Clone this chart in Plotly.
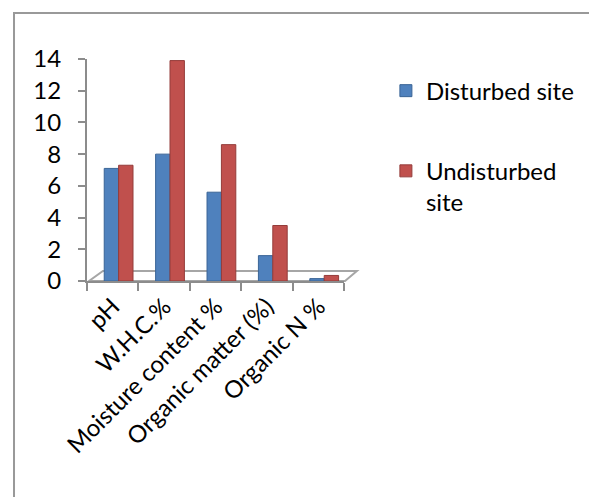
import plotly.graph_objects as go

categories = ["pH", "W.H.C.%", "Moisture content %", "Organic matter (%)", "Organic N %"]
disturbed = [7.1, 8.0, 5.6, 1.6, 0.15]
undisturbed = [7.3, 13.9, 8.6, 3.5, 0.35]
y_ticks = [0, 2, 4, 6, 8, 10, 12, 14]

FONT = "Lato"
GRAY = "#8c8c8c"

fig = go.Figure()
fig.add_trace(go.Bar(
    x=categories, y=disturbed, name="Disturbed site", legendgroup="a",
    marker=dict(color="#4F81BD", line=dict(color="#3A6496", width=1)),
    width=0.28, offset=-0.165,
))
fig.add_trace(go.Bar(
    x=categories, y=undisturbed, name="Undisturbed<br>site", legendgroup="b",
    marker=dict(color="#C0504D", line=dict(color="#943C3A", width=1)),
    width=0.28, offset=0.115,
))

fig.update_layout(
    width=597, height=497,
    margin=dict(l=79, r=261, t=51, b=224),
    paper_bgcolor="white", plot_bgcolor="rgba(0,0,0,0)",
    barmode="overlay",
    font=dict(family=FONT, size=24, color="black"),
    showlegend=True,
    legend=dict(
        x=1.163, y=0.957, xanchor="left", yanchor="top",
        traceorder="grouped", tracegroupgap=46, valign="top",
        font=dict(family=FONT, size=24, color="black"),
        bgcolor="rgba(0,0,0,0)",
    ),
    xaxis=dict(
        type="category", showline=True, linecolor=GRAY, linewidth=2,
        ticks="outside", ticklen=8, tickcolor=GRAY, tickwidth=2,
        tickson="boundaries", tickangle=-45, showgrid=False,
        tickfont=dict(family=FONT, size=24, color="black"),
    ),
    yaxis=dict(
        range=[0, 14], tickvals=y_ticks, showline=True, linecolor=GRAY, linewidth=2,
        ticks="outside", ticklen=7, tickcolor=GRAY, tickwidth=2, showgrid=False,
        zeroline=False, ticklabelstandoff=12,
        tickfont=dict(family=FONT, size=24, color="black"),
    ),
    shapes=[
        dict(type="path", xref="paper", yref="paper",
             path="M 0.008,0 L 1.004,0 L 1.05,0.045 L 0.062,0.045 Z",
             line=dict(color="#a6a6a6", width=2), fillcolor="white", layer="below"),
        dict(type="rect", xref="paper", yref="paper",
             x0=-0.284, y0=-1.3, x1=2.3, y1=1.207,
             line=dict(color="#999999", width=2), fillcolor="rgba(0,0,0,0)", layer="below"),
    ],
)

fig.write_html("out.html")
